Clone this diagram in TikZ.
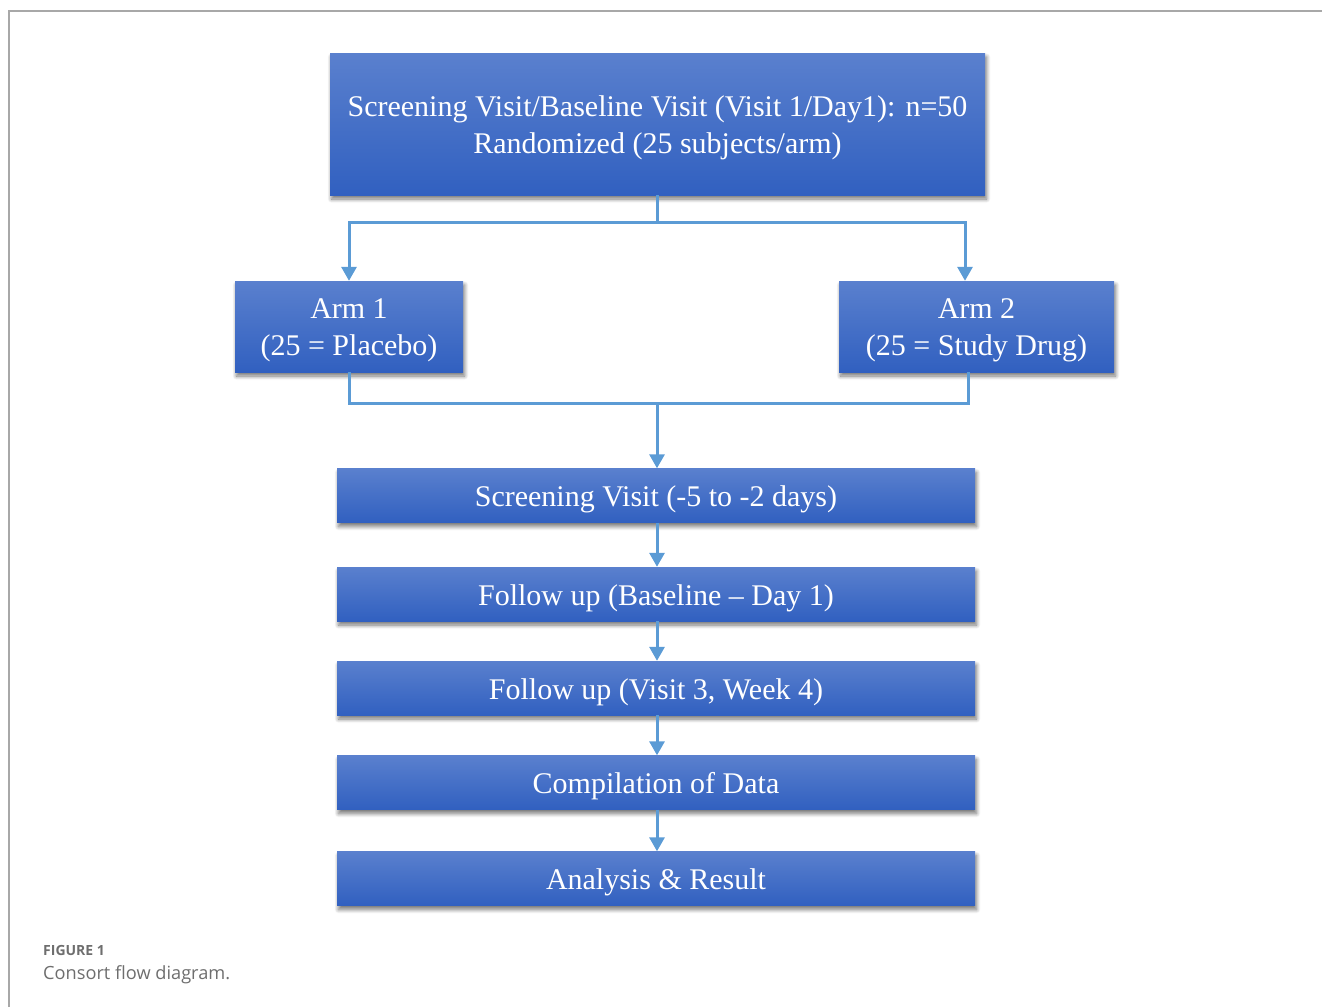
\documentclass[tikz,border=0pt]{standalone}
\usepackage{fontspec}
\setmainfont{Liberation Serif}
\newfontfamily\boxfont[Ligatures=TeX]{Liberation Serif}
\newfontfamily\capfont{Open Sans}
\usetikzlibrary{arrows.meta,shadows.blur,calc}
\definecolor{boxtop}{HTML}{5A80CE}
\definecolor{boxbot}{HTML}{3160C0}
\definecolor{conn}{HTML}{5B9BD5}
\definecolor{framec}{HTML}{A8A8A8}
\definecolor{capgray}{HTML}{6E6E6E}
\tikzset{
  flowbox/.style={rectangle, inner sep=0pt, top color=boxtop, bottom color=boxbot,
    draw=none,
    blur shadow={shadow xshift=1.5pt, shadow yshift=-4pt, shadow blur radius=4pt,
      shadow blur steps=8, shadow opacity=55}},
  boxtext/.style={yshift=-4pt, inner sep=0pt, text=white, align=center,
    font=\boxfont\fontsize{30}{37}\selectfont},
  conline/.style={draw=conn, line width=3pt},
  conarrow/.style={conline, -{Triangle[width=15pt,length=14pt]}},
}
\begin{document}
\begin{tikzpicture}[x=1pt,y=-1pt]
\useasboundingbox (0,0) rectangle (1322,1007);
% frame
\draw[framec, line width=1.2pt] (9,1007) -- (9,11) -- (1322,11);
% boxes
\node[flowbox, minimum width=655pt, minimum height=142pt] (top) at (657.5,124) {};
\node[boxtext] (toptext) at (top.center) {Screening Visit/Baseline Visit (Visit 1/Day1): n=50\\Randomized (25 subjects/arm)};
\node[flowbox, minimum width=228pt, minimum height=91pt] (arm1) at (349,326.5) {};
\node[boxtext] (arm1text) at (arm1.center) {Arm 1\\(25 = Placebo)};
\node[flowbox, minimum width=275pt, minimum height=91pt] (arm2) at (976.5,326.5) {};
\node[boxtext] (arm2text) at (arm2.center) {Arm 2\\(25 = Study Drug)};
\node[flowbox, minimum width=638pt, minimum height=54pt] (s1) at (656,495.5) {};
\node[boxtext] (s1text) at (s1.center) {Screening Visit (-5 to -2 days)};
\node[flowbox, minimum width=638pt, minimum height=54pt] (s2) at (656,594) {};
\node[boxtext] (s2text) at (s2.center) {Follow up (Baseline – Day 1)};
\node[flowbox, minimum width=638pt, minimum height=54pt] (s3) at (656,688) {};
\node[boxtext] (s3text) at (s3.center) {Follow up (Visit 3, Week 4)};
\node[flowbox, minimum width=638pt, minimum height=54pt] (s4) at (656,782.5) {};
\node[boxtext] (s4text) at (s4.center) {Compilation of Data};
\node[flowbox, minimum width=638pt, minimum height=54pt] (s5) at (656,878.5) {};
\node[boxtext] (s5text) at (s5.center) {Analysis \& Result};
% connectors
\coordinate (j1) at (657,222);
\coordinate (j2) at (657,403);
\draw[conline] (top.south -| j1) -- (j1);
\draw[conarrow] (j1) -| (arm1.north);
\draw[conarrow] (j1) -| ([xshift=-11.5pt]arm2.north);
\draw[conline] (arm1.south) |- (j2) -| ([xshift=-8.5pt]arm2.south);
\draw[conarrow] (j2) -- (s1.north -| j2);
\draw[conarrow] (s1.south -| j2) -- (s2.north -| j2);
\draw[conarrow] (s2.south -| j2) -- (s3.north -| j2);
\draw[conarrow] (s3.south -| j2) -- (s4.north -| j2);
\draw[conarrow] (s4.south -| j2) -- (s5.north -| j2);
% caption
\node[anchor=base west, inner sep=0pt, text=capgray, font=\capfont\bfseries\fontsize{14}{16}\selectfont] (figlab) at (43,955) {FIGURE 1};
\node[anchor=base west, inner sep=0pt, text=capgray, font=\capfont\fontsize{18.2}{21}\selectfont] (figcap) at (43,979) {Consort flow diagram.};
\end{tikzpicture}
\end{document}
